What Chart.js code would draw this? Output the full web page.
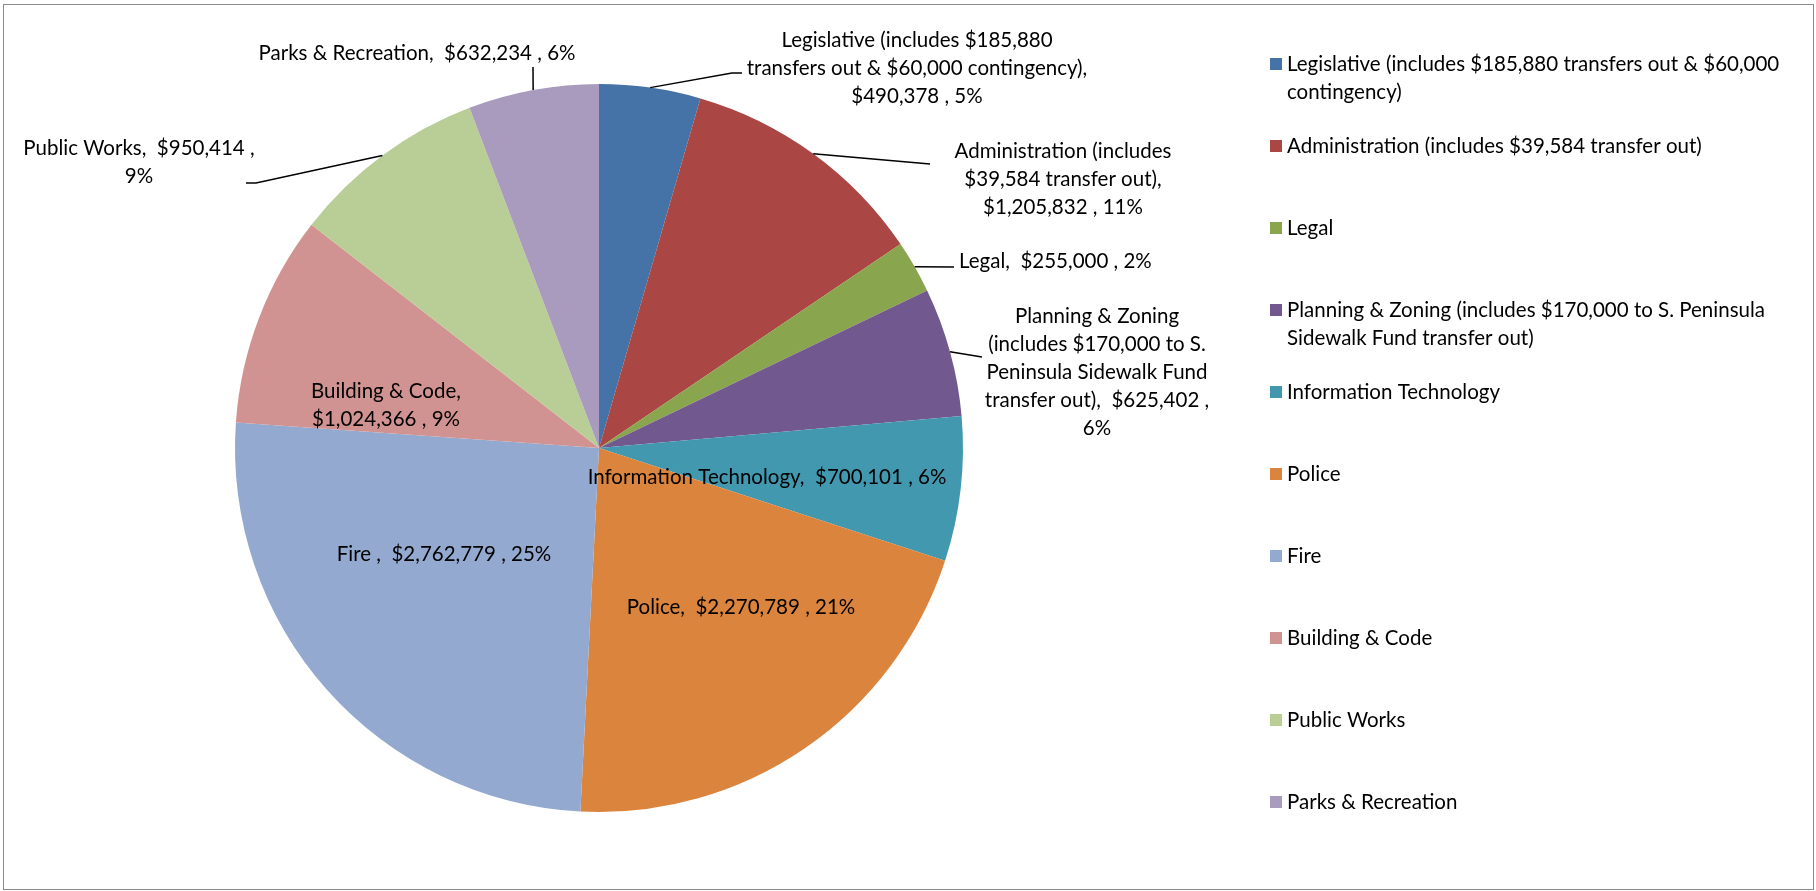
<!DOCTYPE html>
<html>
<head>
<meta charset="utf-8">
<title>General Fund Expenditures</title>
<script src="https://cdn.jsdelivr.net/npm/chart.js@4.4.1/dist/chart.umd.min.js"></script>
<style>
  html, body { margin: 0; padding: 0; background: #fff; }
  #wrap { position: relative; width: 1816px; height: 891px; }
  #frame {
    position: absolute; left: 3px; top: 4px; width: 1811px; height: 886px;
    border: 1.5px solid #8a8a8a; box-sizing: border-box; pointer-events: none;
  }
</style>
</head>
<body>
<div id="wrap">
  <canvas id="pie"></canvas>
  <div id="frame"></div>
</div>
<script>
// department budgets
const categories = [
  'Legislative (includes $185,880 transfers out & $60,000 contingency)',
  'Administration (includes $39,584 transfer out)',
  'Legal',
  'Planning & Zoning (includes $170,000 to S. Peninsula Sidewalk Fund transfer out)',
  'Information Technology',
  'Police',
  'Fire ',
  'Building & Code',
  'Public Works',
  'Parks & Recreation'
];
const budget = [490378, 1205832, 255000, 625402, 700101, 2270789, 2762779, 1024366, 950414, 632234];
const shareLabels = ['5%', '11%', '2%', '6%', '6%', '21%', '25%', '9%', '9%', '6%'];

const sliceColors = ['#4572A7', '#AA4643', '#89A54E', '#71588F', '#4198AF',
                     '#DB843D', '#93A9CF', '#D19392', '#B9CD96', '#A99BBD'];

const FONT = '20.5px Lato, "Open Sans", sans-serif';
const LINE_H = 28;

// where each data label sits, its wrap width and the leader line bends
const labelSpots = [
  { x: 917,  y: 40,  wrap: 353, align: 'center', leader: [[732, 73], [742, 73]] },
  { x: 1063, y: 151, wrap: 240, align: 'center', leader: [[930, 164]] },
  { x: 959,  y: 261, wrap: 400, align: 'left',   leader: [[954, 267]] },
  { x: 1097, y: 316, wrap: 238, align: 'center', leader: [[982, 357]] },
  { x: 767,  y: 477, wrap: 600, align: 'center' },
  { x: 741,  y: 607, wrap: 600, align: 'center' },
  { x: 444,  y: 554, wrap: 600, align: 'center' },
  { x: 386,  y: 391, wrap: 170, align: 'center' },
  { x: 139,  y: 148, wrap: 245, align: 'center', leader: [[256, 183], [246, 183]] },
  { x: 417,  y: 53,  wrap: 600, align: 'center', leader: [[533, 67]] }
];

const money = v => '$' + v.toLocaleString('en-US');

function wrapText(ctx, text, maxWidth) {
  const words = text.split(' ');
  const lines = [];
  let line = '';
  words.forEach(w => {
    const test = line === '' ? w : line + ' ' + w;
    if (line !== '' && ctx.measureText(test.trim()).width > maxWidth) {
      lines.push(line.trim());
      line = w;
    } else {
      line = test;
    }
  });
  if (line.trim() !== '') lines.push(line.trim());
  return lines;
}

const sliceLabels = {
  id: 'sliceLabels',
  afterDatasetsDraw(chart) {
    const ctx = chart.ctx;
    const meta = chart.getDatasetMeta(0);
    ctx.save();
    ctx.font = FONT;
    ctx.fillStyle = '#000';
    ctx.strokeStyle = '#000';
    ctx.lineWidth = 1.5;
    ctx.textBaseline = 'middle';
    meta.data.forEach((arc, i) => {
      const spot = labelSpots[i];
      const p = arc.getProps(['x', 'y', 'startAngle', 'endAngle', 'outerRadius'], true);
      if (spot.leader) {
        const mid = (p.startAngle + p.endAngle) / 2;
        ctx.beginPath();
        ctx.moveTo(p.x + Math.cos(mid) * p.outerRadius, p.y + Math.sin(mid) * p.outerRadius);
        spot.leader.forEach(pt => ctx.lineTo(pt[0], pt[1]));
        ctx.stroke();
      }
      const text = categories[i] + ',  ' + money(budget[i]) + ' , ' + shareLabels[i];
      ctx.textAlign = spot.align;
      wrapText(ctx, text, spot.wrap).forEach((ln, k) => {
        ctx.fillText(ln, spot.x, spot.y + k * LINE_H);
      });
    });
    ctx.restore();
  }
};

// legend on the right, one entry per department
const sideLegend = {
  id: 'sideLegend',
  afterDraw(chart) {
    const ctx = chart.ctx;
    const colors = chart.data.datasets[0].backgroundColor;
    ctx.save();
    ctx.font = FONT;
    ctx.textBaseline = 'middle';
    ctx.textAlign = 'left';
    chart.data.labels.forEach((lab, i) => {
      const y = 64 + i * 82;
      ctx.fillStyle = colors[i];
      ctx.fillRect(1270, y - 6, 12, 12);
      ctx.fillStyle = '#000';
      wrapText(ctx, lab.trim(), 505).forEach((ln, k) => {
        ctx.fillText(ln, 1287, y + k * LINE_H);
      });
    });
    ctx.restore();
  }
};

const canvas = document.getElementById('pie');
canvas.width = 1816;
canvas.height = 891;

new Chart(canvas.getContext('2d'), {
  type: 'pie',
  data: {
    labels: categories,
    datasets: [{
      data: budget,
      backgroundColor: sliceColors,
      borderWidth: 0,
      hoverOffset: 0
    }]
  },
  options: {
    responsive: false,
    animation: false,
    layout: { padding: { left: 235, top: 84, right: 853, bottom: 79 } },
    plugins: {
      legend: { display: false },
      tooltip: { enabled: false }
    }
  },
  plugins: [sliceLabels, sideLegend]
});
</script>
</body>
</html>
